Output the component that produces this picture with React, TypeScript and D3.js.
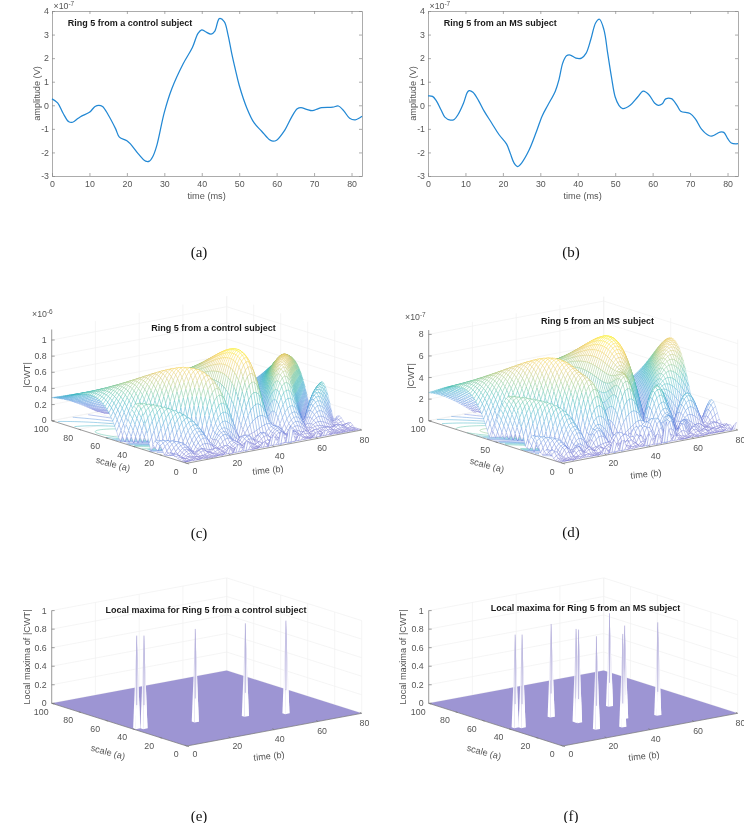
import React, { useEffect, useRef } from 'react';
import * as d3 from 'd3';

// signals (a) and (b), amplitude in 1e-7 V
const controlTimes = [0,1.5,3,4.5,5.5,7,8,10,11.5,12.5,13.5,15,17,18,20,21,23,25,26,27,28,30,32,35,37.5,39,40,41,42.5,43.5,44.7,46,47,48,49,50,52,54,56,58,59,60,62,64,65.5,66.5,68,69.5,71,72,75,76.5,78,79.5,81,82.8];
const controlValues = [0.27,0.1,-0.35,-0.7,-0.72,-0.55,-0.45,-0.3,-0.05,0,-0.05,-0.4,-1.0,-1.35,-1.5,-1.65,-2.05,-2.37,-2.37,-2.15,-1.7,-0.3,0.7,1.75,2.45,3.05,3.2,3.12,3.02,3.15,3.68,3.55,3.0,2.2,1.5,0.85,-0.1,-0.75,-1.1,-1.45,-1.52,-1.48,-1.1,-0.5,-0.15,-0.1,-0.17,-0.23,-0.15,-0.1,-0.08,-0.03,-0.25,-0.55,-0.62,-0.47];
const msTimes = [0,1.2,2.2,3.5,4.5,6,7,8,9.5,10.5,11,12,13.5,15,17,19,21,22,23,24,25,27,29,30.5,32,34,35,36,37,38,39.5,41,42.2,43.5,44.8,45.8,47,48,49,50,51,52,54,56,57.5,59,60.5,61.5,62.5,63.5,65,66.5,67.5,70,71.5,73,75,76,77,78,79,80,81,82.8];
const msValues = [0.4,0.38,0.2,-0.2,-0.5,-0.63,-0.6,-0.4,0.1,0.55,0.62,0.55,0.2,-0.25,-0.75,-1.25,-1.65,-2.05,-2.45,-2.6,-2.45,-1.9,-1.1,-0.45,0,0.6,1.1,1.8,2.1,2.13,2.0,2.0,2.2,2.8,3.5,3.65,3.2,2.2,1.2,0.35,0,-0.14,0,0.35,0.6,0.45,0.1,0,0.05,0.27,0.28,0,-0.25,-0.35,-0.6,-1.0,-1.28,-1.3,-1.22,-1.14,-1.15,-1.4,-1.6,-1.63];

// local maxima positions [time, scale] (e) and (f)
const controlMaxima = [[1.7,39.8],[3.8,37.8],[24.6,33.5],[44.1,28],[58.2,20.8]];
const msMaxima = [[3.2,40.7],[5.2,38.8],[23.2,46.5],[25.9,32.3],[26,30.6],[25.1,15.8],[49.7,46.2],[34.8,12],[42.9,23.8],[55.4,19.5]];

const timeTicks2d = [0,10,20,30,40,50,60,70,80];
const ampTicks = [-3,-2,-1,0,1,2,3,4];
const timeTicks3d = [0,20,40,60,80];
const scaleTicks = [0,20,40,60,80,100];
const scaleTicksMs = [0,50,100];
const cwtTicksControl = [0,0.2,0.4,0.6,0.8,1];
const cwtTicksMs = [0,2,4,6,8];
const maximaTicks = [0,0.2,0.4,0.6,0.8,1];

const parula = ['#6f68cc','#5f80e0','#4a90dc','#30a4d0','#25b5b4','#66c290','#a9c570','#e4c058','#fcd23c','#f9f020'];
const cmap = d3.interpolateRgbBasis(parula);

const GREY = '#555';
const WAVE_W = 5;
const SAMPLES_PER_MS = 1.06;
const SCALE_NORM = 0.32; // fitted to the ratio between the humps in (c), (d)
const MESH_N = 70;

type Corners = { left: number[]; front: number[]; right: number[]; zPx: number; zMax: number };

function makeProjection(c: Corners) {
  const tx = d3.scaleLinear().domain([0, 80]).range([0, c.right[0] - c.front[0]]);
  const ty = d3.scaleLinear().domain([0, 80]).range([0, c.right[1] - c.front[1]]);
  const ax = d3.scaleLinear().domain([0, 100]).range([0, c.left[0] - c.front[0]]);
  const ay = d3.scaleLinear().domain([0, 100]).range([0, c.left[1] - c.front[1]]);
  const zy = d3.scaleLinear().domain([0, 1]).range([0, c.zPx]);
  return (t: number, a: number, z: number): [number, number] => [
    c.front[0] + tx(t) + ax(a),
    c.front[1] + ty(t) + ay(a) - zy(z),
  ];
}

// |CWT| of a read signal on a mesh grid
function cwtSurface(times: number[], values: number[], gridT: number[], gridA: number[], peak: number) {
  const interp = d3.scaleLinear().domain(times).range(values);
  const samples = d3.range(0, Math.round(82.8 * SAMPLES_PER_MS)).map(i => interp(i / SAMPLES_PER_MS));
  const z = gridA.map(a =>
    gridT.map(b => {
      let s = 0;
      samples.forEach((v, i) => {
        const x = (i - b) / a;
        s += v * Math.exp(-x * x / 2) * Math.cos(WAVE_W * x);
      });
      return Math.abs(s) / Math.pow(a, SCALE_NORM);
    })
  );
  const m = d3.max(z.flat()) as number;
  return z.map(r => r.map(v => v * peak / m));
}

function drawFrame(g: any, proj: any, c: Corners, zTicks: number[], zScale: number, aTicks: number[]) {
  const grid = g.append('g').attr('stroke', '#f0f0f0').attr('stroke-width', 0.7).attr('fill', 'none');
  const seg = (p: number[], q: number[]) =>
    grid.append('line').attr('x1', p[0]).attr('y1', p[1]).attr('x2', q[0]).attr('y2', q[1]);
  const top = c.zMax;
  timeTicks3d.forEach(t => {
    seg(proj(t, 0, 0), proj(t, 100, 0));
    seg(proj(t, 100, 0), proj(t, 100, top));
  });
  aTicks.forEach(a => {
    seg(proj(0, a, 0), proj(80, a, 0));
    seg(proj(80, a, 0), proj(80, a, top));
  });
  zTicks.forEach(z => {
    seg(proj(0, 100, z / zScale), proj(80, 100, z / zScale));
    seg(proj(80, 100, z / zScale), proj(80, 0, z / zScale));
  });
}

function drawAxes3d(g: any, proj: any, c: Corners, zTicks: number[], zScale: number, aTicks: number[]) {
  const ax = g.append('g').attr('stroke', '#777').attr('stroke-width', 0.7);
  const seg = (p: number[], q: number[]) =>
    ax.append('line').attr('x1', p[0]).attr('y1', p[1]).attr('x2', q[0]).attr('y2', q[1]);
  seg(proj(0, 0, 0), proj(80, 0, 0));
  seg(proj(0, 0, 0), proj(0, 100, 0));
  seg(proj(0, 100, 0), proj(0, 100, c.zMax));
  const label = (x: number, y: number, s: any, anchor = 'middle') =>
    g.append('text').attr('x', x).attr('y', y).attr('text-anchor', anchor)
      .attr('dy', '0.35em').attr('fill', GREY).attr('font-size', 8.8).text(s);
  zTicks.forEach(z => {
    const p = proj(0, 100, z / zScale);
    seg(p, [p[0] + 3, p[1]]);
    label(p[0] - 5, p[1] - (z === 0 ? 0.8 : 0), z, 'end');
  });
  aTicks.forEach(a => {
    const p = proj(0, a, 0);
    seg(p, [p[0] + 2.4, p[1] + 0.7]);
    label(p[0] - 10.5, p[1] + 8.3, a);
  });
  timeTicks3d.forEach(t => {
    const p = proj(t, 0, 0);
    seg(p, [p[0] - 1.8, p[1] - 1]);
    const f = t / 80;
    label(p[0] + 8.3 - 5.6 * f, p[1] + 7.7 + 2.3 * f, t);
  });
}

function rotatedText(g: any, x: number, y: number, rot: number, s: string) {
  g.append('text').attr('transform', `translate(${x},${y}) rotate(${rot})`)
    .attr('text-anchor', 'middle').attr('dy', '0.35em').attr('fill', GREY).attr('font-size', 9.2).text(s);
}

function exponent(g: any, x: number, y: number, e: string) {
  const t = g.append('text').attr('x', x).attr('y', y).attr('fill', GREY).attr('font-size', 8.8);
  t.append('tspan').text('×10');
  t.append('tspan').attr('dy', -3.5).attr('font-size', 6.5).text(e);
}

function title(g: any, x: number, y: number, s: string, anchor = 'middle') {
  g.append('text').attr('x', x).attr('y', y).attr('text-anchor', anchor).attr('dy', '0.35em')
    .attr('font-weight', 700).attr('font-size', 9).attr('fill', '#1a1a1a').text(s);
}

function caption(g: any, x: number, y: number, s: string) {
  g.append('text').attr('x', x).attr('y', y).attr('text-anchor', 'middle').attr('dy', '0.35em')
    .attr('font-family', '"Liberation Serif", serif').attr('font-size', 15).attr('fill', '#111').text(s);
}

function linePanel(svg: any, left: number, times: number[], values: number[], name: string) {
  const g = svg.append('g');
  const x = d3.scaleLinear().domain([0, 82.8]).range([left, left + 310]);
  const y = d3.scaleLinear().domain([-3, 4]).range([176, 11]);
  const style = (sel: any) => {
    sel.selectAll('path').attr('stroke', '#888').attr('stroke-width', 0.7);
    sel.selectAll('line').attr('stroke', '#888').attr('stroke-width', 0.7);
    sel.selectAll('text').attr('fill', GREY).attr('font-size', 8.8).attr('font-family', 'inherit');
  };
  g.append('g').attr('transform', 'translate(0,176)')
    .call(d3.axisBottom(x).tickValues(timeTicks2d).tickSizeInner(-3).tickSizeOuter(0).tickPadding(5)).call(style);
  g.append('g').attr('transform', 'translate(0,11)')
    .call(d3.axisTop(x).tickValues(timeTicks2d).tickSizeInner(-3).tickSizeOuter(0).tickFormat(() => '')).call(style);
  g.append('g').attr('transform', `translate(${left},0)`)
    .call(d3.axisLeft(y).tickValues(ampTicks).tickFormat((d: any) => String(d)).tickSizeInner(-3).tickSizeOuter(0).tickPadding(3)).call(style);
  g.append('g').attr('transform', `translate(${left + 310},0)`)
    .call(d3.axisRight(y).tickValues(ampTicks).tickSizeInner(-3).tickSizeOuter(0).tickFormat(() => '')).call(style);
  const line = d3.line<number>().x((_, i) => x(times[i])).y(d => y(d)).curve(d3.curveCatmullRom.alpha(0.5));
  g.append('path').attr('d', line(values)).attr('fill', 'none').attr('stroke', '#2288d4').attr('stroke-width', 1.25);
  rotatedText(g, left - 15, 93.5, -90, 'amplitude (V)');
  rotatedText(g, x(41.3), 196, 0, 'time (ms)');
  exponent(g, left + 1.5, 9, '-7');
  title(g, left + 15.7, 22.5, name, 'start');
}

function meshPanel(svg: any, c: Corners, times: number[], values: number[], peak: number, zTicks: number[], zScale: number, aTicks: number[]) {
  const g = svg.append('g');
  const proj = makeProjection(c);
  drawFrame(g, proj, c, zTicks, zScale, aTicks);

  const gridT = d3.range(0, MESH_N + 1).map(i => (i * 80) / MESH_N);
  const gridA = d3.range(0, MESH_N + 1).map(i => 1 + (i * 99) / MESH_N);
  const Z = cwtSurface(times, values, gridT, gridA, peak);

  // contour lines on the floor
  const n = gridT.length;
  const m = gridA.length;
  const toT = d3.scaleLinear().domain([0.5, n - 0.5]).range([0, 80]);
  const toA = d3.scaleLinear().domain([0.5, m - 0.5]).range([1, 100]);
  const levels = d3.range(1, 10).map(i => (peak * i) / 10);
  const contours = d3.contours().size([n, m]).thresholds(levels)(Z.flat());
  const ring = d3.line<number[]>()
    .defined(p => p[0] > 0.5 && p[0] < n - 0.5 && p[1] > 0.5 && p[1] < m - 0.5)
    .x(p => proj(toT(p[0]), toA(p[1]), 0)[0])
    .y(p => proj(toT(p[0]), toA(p[1]), 0)[1]);
  const floor = g.append('g').attr('fill', 'none').attr('stroke-width', 0.45);
  contours.forEach((ct: any) => {
    ct.coordinates.forEach((poly: number[][][]) => poly.forEach(r => {
      floor.append('path').attr('d', ring(r)).attr('stroke', cmap(ct.value / peak));
    }));
  });

  // opaque quads, back to front
  const quads: any[] = [];
  for (let j = m - 2; j >= 0; j--) {
    for (let i = n - 2; i >= 0; i--) {
      const zz = (Z[j][i] + Z[j][i + 1] + Z[j + 1][i] + Z[j + 1][i + 1]) / 4;
      quads.push({
        pts: [proj(gridT[i], gridA[j], Z[j][i]), proj(gridT[i + 1], gridA[j], Z[j][i + 1]),
              proj(gridT[i + 1], gridA[j + 1], Z[j + 1][i + 1]), proj(gridT[i], gridA[j + 1], Z[j + 1][i])],
        c: cmap(zz / peak),
      });
    }
  }
  const path = d3.line();
  g.append('g').attr('stroke-width', 0.3).selectAll('path').data(quads).enter().append('path')
    .attr('d', (d: any) => path(d.pts) + 'Z').attr('fill', '#fff').attr('stroke', (d: any) => d.c);
  drawAxes3d(g, proj, c, zTicks, zScale, aTicks);
  return g;
}

function maximaPanel(svg: any, c: Corners, maxima: number[][]) {
  const g = svg.append('g');
  const proj = makeProjection(c);
  drawFrame(g, proj, c, maximaTicks, 1, scaleTicks);
  const path = d3.line();
  g.append('path').attr('d', path([proj(0, 0, 0), proj(80, 0, 0), proj(80, 100, 0), proj(0, 100, 0)]) + 'Z')
    .attr('fill', '#9d95d3');
  const order = [...maxima].sort((p, q) => q[1] - p[1]);
  order.forEach(([t, a]) => {
    const apex = proj(t, a, 1);
    const faces = [
      [apex, proj(t + 1, a + 1, 0), proj(t + 1, a - 1, 0)],
      [apex, proj(t - 1, a + 1, 0), proj(t - 1, a - 1, 0)],
      [apex, proj(t - 1, a - 1, 0), proj(t + 1, a - 1, 0)],
    ];
    faces.forEach(f => g.append('path').attr('d', path(f as any) + 'Z').attr('fill', 'url(#spike)'));
    const mid = proj(t, a, 0.25);
    g.append('line').attr('x1', apex[0]).attr('y1', apex[1]).attr('x2', mid[0]).attr('y2', mid[1])
      .attr('stroke', '#a9a4d6').attr('stroke-width', 0.7);
  });
  drawAxes3d(g, proj, c, maximaTicks, 1, scaleTicks);
  return g;
}

export default function App() {
  const ref = useRef<SVGSVGElement>(null);
  useEffect(() => {
    const svg = d3.select(ref.current);
    svg.selectAll('*').remove();
    const grad = svg.append('defs').append('linearGradient').attr('id', 'spike')
      .attr('x1', 0).attr('y1', 0).attr('x2', 0).attr('y2', 1);
    grad.append('stop').attr('offset', '0%').attr('stop-color', '#b5b0dc');
    grad.append('stop').attr('offset', '45%').attr('stop-color', '#e8e6f5');
    grad.append('stop').attr('offset', '80%').attr('stop-color', '#fff');

    linePanel(svg, 52, controlTimes, controlValues, 'Ring 5 from a control subject');
    linePanel(svg, 428, msTimes, msValues, 'Ring 5 from an MS subject');
    caption(svg, 199, 252, '(a)');
    caption(svg, 571, 252, '(b)');

    const cC = { left: [51.7, 420.7], front: [186.7, 463.3], right: [361.7, 430], zPx: 80.7, zMax: 1.13 };
    const gc = meshPanel(svg, cC, controlTimes, controlValues, 1.0, cwtTicksControl, 1, scaleTicks);
    rotatedText(gc, 27, 375, -90, '|CWT|');
    rotatedText(gc, 113, 464, 15, 'scale (a)');
    rotatedText(gc, 268, 470, -6, 'time (b)');
    exponent(gc, 32, 317, '-6');
    title(gc, 213.5, 327.5, 'Ring 5 from a control subject');
    caption(svg, 199, 533, '(c)');

    const cD = { left: [428.7, 420.7], front: [562.7, 463.3], right: [737.7, 430], zPx: 107.9, zMax: 0.84 };
    const gd = meshPanel(svg, cD, msTimes, msValues, 0.8, cwtTicksMs, 10, scaleTicksMs);
    rotatedText(gd, 411, 376, -90, '|CWT|');
    rotatedText(gd, 487, 465, 15, 'scale (a)');
    rotatedText(gd, 646, 474, -6, 'time (b)');
    exponent(gd, 405, 320, '-7');
    title(gd, 597.5, 321, 'Ring 5 from an MS subject');
    caption(svg, 571, 532, '(d)');

    const cE = { left: [51.7, 703.3], front: [186.7, 746], right: [361.7, 713.3], zPx: 92.7, zMax: 1 };
    const ge = maximaPanel(svg, cE, controlMaxima);
    rotatedText(ge, 27, 657, -90, 'Local maxima of |CWT|');
    rotatedText(ge, 108, 752, 15, 'scale (a)');
    rotatedText(ge, 269, 756, -6, 'time (b)');
    title(ge, 206, 610, 'Local maxima for Ring 5 from a control subject');
    caption(svg, 199, 816, '(e)');

    const cF = { left: [428.7, 703.3], front: [562.7, 746], right: [737.7, 713.3], zPx: 92.7, zMax: 1 };
    const gf = maximaPanel(svg, cF, msMaxima);
    rotatedText(gf, 403, 657, -90, 'Local maxima of |CWT|');
    rotatedText(gf, 484, 752, 15, 'scale (a)');
    rotatedText(gf, 644, 756, -6, 'time (b)');
    title(gf, 585.5, 607.5, 'Local maxima for Ring 5 from an MS subject');
    caption(svg, 571, 816, '(f)');
  }, []);

  return (
    <svg ref={ref} width={744} height={823}
      style={{ position: 'absolute', left: 0, top: 0, background: '#fff', filter: 'blur(0.35px)', fontFamily: '"Liberation Sans", Arial, sans-serif' }} />
  );
}
